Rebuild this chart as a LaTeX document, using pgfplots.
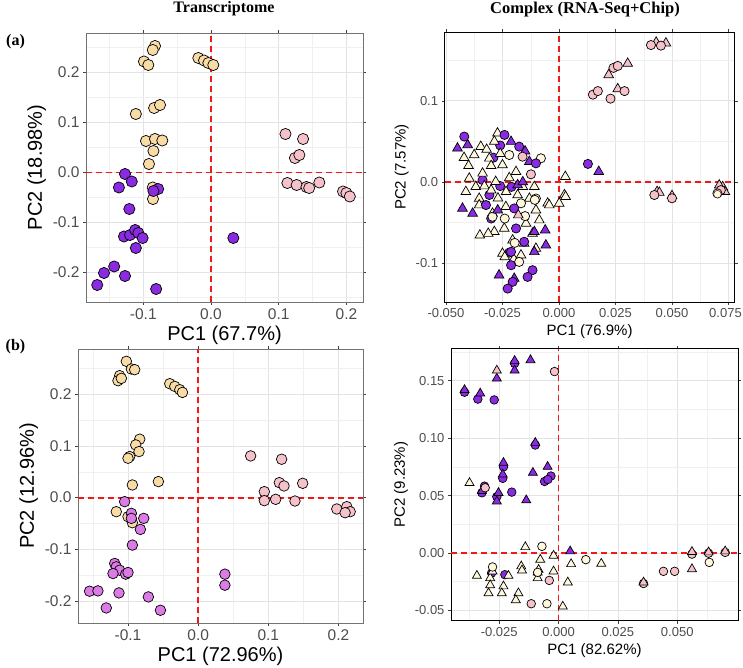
\documentclass[border=0pt]{standalone}
\usepackage{pgfplots}
\pgfplotsset{compat=1.18}
\usepackage{fontspec}
\setmainfont{Liberation Sans}
\newfontfamily\titlefont{Liberation Serif}
\newcommand{\fs}[1]{\fontsize{#1}{#1}\selectfont}
\definecolor{cwheat}{HTML}{F9DBA5}
\definecolor{cpink}{HTML}{F6C2CA}
\definecolor{cpurple}{HTML}{8A2BE2}
\definecolor{corchid}{HTML}{DA7BE6}
\definecolor{csilk}{HTML}{FFF8DC}
\definecolor{tickgray}{HTML}{4D4D4D}
\definecolor{zred}{HTML}{F01818}
\pgfplotsset{
  pca/.style={
    scale only axis, clip=true, scaled ticks=false,
    grid=both,
    major grid style={color=black!11, line width=0.7pt},
    minor grid style={color=black!6, line width=0.4pt},
    tick align=outside, major tick length=3pt, minor tick length=0pt,
    tick style={color=black!75, line width=0.6pt},
    ticklabel style={text=tickgray},
  },
  leftp/.style={pca, axis line style={draw=black!55, line width=0.8pt},
    ticklabel style={font=\fs{15.5}}, label style={font=\fs{20}}},
  rightp/.style={pca, axis line style={draw=black, line width=0.8pt},
    ticklabel style={font=\fs{13}}, label style={font=\fs{15}}},
  zline/.style={draw=zred, line width=1.7pt, dash pattern=on 6pt off 4pt, no marks, sharp plot},
  circ/.style 2 args={only marks, mark=*, mark size=#2, mark options={fill=#1, draw=black, line width=0.7pt}},
  tri/.style 2 args={only marks, mark=triangle*, mark size=#2, mark options={fill=#1, draw=black, line width=0.7pt}},
}
\begin{document}
\begin{tikzpicture}[x=1pt,y=1pt]
\path[use as bounding box] (0,0) rectangle (743,667);
\node[font=\titlefont\bfseries\fs{16}] at (224,658) {Transcriptome};
\node[font=\titlefont\bfseries\fs{16.5}] at (585,657) {Complex (RNA-Seq+Chip)};
\node[font=\titlefont\bfseries\fs{16}] at (15.5,625) {(a)};
\node[font=\titlefont\bfseries\fs{16}] at (15.5,320) {(b)};

% ---------- Panel 1 ----------
\begin{axis}[leftp, at={(86pt,365pt)}, anchor=south west, width=277pt, height=269pt,
  xmin=-0.1846, xmax=0.2245, ymin=-0.259, ymax=0.279,
  xtick={-0.1,0,0.1,0.2}, xticklabels={-0.1,0.0,0.1,0.2},
  ytick={-0.2,-0.1,0,0.1,0.2}, yticklabels={-0.2,-0.1,0.0,0.1,0.2},
  minor xtick={-0.15,-0.05,0.05,0.15}, minor ytick={-0.25,-0.15,-0.05,0.05,0.15,0.25},
  xlabel={PC1 (67.7\%)}, ylabel={PC2 (18.98\%)}]
\addplot[circ={cwheat}{5.6pt}] coordinates {
(-0.0827,0.253) (-0.086,0.245) (-0.099,0.222) (-0.0926,0.215) (-0.0187,0.229) (-0.0103,0.224)
(-0.0039,0.219) (0.0034,0.215) (-0.111,0.117) (-0.084,0.129) (-0.0753,0.135) (-0.096,0.063)
(-0.0827,0.067) (-0.0719,0.064) (-0.085,0.043) (-0.0916,0.017) (-0.086,-0.030) (-0.0857,-0.053)};
\addplot[circ={cpurple}{5.6pt}] coordinates {
(-0.127,-0.003) (-0.117,-0.018) (-0.136,-0.030) (-0.078,-0.033) (-0.085,-0.037) (-0.1206,-0.073)
(-0.1285,-0.128) (-0.1196,-0.125) (-0.112,-0.115) (-0.1073,-0.121) (-0.101,-0.131) (-0.111,-0.151)
(0.033,-0.131) (-0.143,-0.188) (-0.158,-0.201) (-0.168,-0.225) (-0.127,-0.207) (-0.081,-0.233)};
\addplot[circ={cpink}{5.6pt}] coordinates {
(0.110,0.077) (0.136,0.067) (0.124,0.029) (0.1305,0.035) (0.1128,-0.021) (0.1265,-0.025)
(0.141,-0.029) (0.145,-0.031) (0.160,-0.020) (0.195,-0.038) (0.200,-0.041) (0.205,-0.048)};
\addplot[zline] coordinates {(0,-0.259) (0,0.279)};
\addplot[zline] coordinates {(-0.1846,0) (0.2245,0)};
\end{axis}

% ---------- Panel 2 ----------
\begin{axis}[rightp, at={(444.6pt,365pt)}, anchor=south west, width=290pt, height=270pt,
  xmin=-0.0506, xmax=0.0777, ymin=-0.1478, ymax=0.1848,
  xtick={-0.05,-0.025,0,0.025,0.05,0.075}, xticklabels={-0.050,-0.025,0.000,0.025,0.050,\hspace*{-6pt}0.075},
  ytick={-0.1,0,0.1}, yticklabels={-0.1,0.0,0.1},
  minor xtick={-0.0375,-0.0125,0.0125,0.0375,0.0625}, minor ytick={-0.05,0.05,0.15},
  xlabel={PC1 (76.9\%)}, ylabel={PC2 (7.57\%)}]
\addplot[circ={cpurple}{4.6pt}] coordinates {
(-0.0338,0.0024) (-0.0308,-0.0160) (-0.0290,0.0300) (-0.0260,0.0450) (-0.0300,-0.0450)
(-0.0260,-0.0050) (-0.0210,-0.0060) (-0.0220,-0.0870)};
\addplot[tri={csilk}{5.6pt}] coordinates {
(0.0028,0.0066) (0.0024,-0.0160) (0.0029,-0.0180) (-0.0050,-0.0262) (-0.0346,0.0436) (-0.0375,0.0333)
(-0.0272,0.0601) (-0.0286,0.0500) (-0.0308,0.0292) (-0.0250,0.0210) (-0.0338,0.0107) (-0.0397,0.0045)
(-0.0412,-0.0120) (-0.0368,-0.0058) (-0.0280,0.0004) (-0.0234,-0.0120) (-0.0353,-0.0203) (-0.0190,0.0126)
(-0.0160,-0.0058) (-0.0109,-0.0058) (-0.0131,-0.0203) (-0.0183,-0.0160) (-0.0353,-0.0284) (-0.0294,-0.0387)
(-0.0235,-0.0305) (-0.0102,-0.0346) (-0.0043,-0.0284) (0.0001,-0.0263) (-0.0087,-0.0469) (-0.0286,-0.0613)
(-0.0242,-0.0572) (-0.0146,-0.0510) (-0.0117,-0.0634) (-0.0154,-0.0757) (-0.0205,-0.0716) (-0.0250,-0.0881)
(-0.0102,-0.0819) (-0.0168,-0.0901) (-0.0320,0.0400) (-0.0300,0.0200) (-0.0260,0.0350) (-0.0330,-0.0050)
(-0.0220,0.0050) (-0.0270,-0.0200) (-0.0300,-0.0100) (-0.0420,0.0300) (-0.0400,0.0200)
(-0.0350,-0.0656) (-0.0313,-0.0635) (-0.0240,-0.0924) (-0.0200,-0.0950)};
\addplot[circ={csilk}{4.6pt}] coordinates {
(-0.0080,0.0292) (-0.0220,0.0333) (-0.0102,-0.0203) (-0.0168,-0.0262) (-0.0294,-0.0428) (-0.0176,-0.0984)
(-0.0107,-0.0220) (-0.0196,-0.0750) (-0.0240,-0.0450) (-0.0150,-0.0420)};
\addplot[tri={cpurple}{5.6pt}] coordinates {
(0.0176,0.0128) (-0.0449,0.0416) (-0.0404,0.0457) (-0.0212,0.0498) (-0.0131,0.0251) (-0.0183,-0.0036)
(-0.0427,-0.0325) (-0.0382,-0.0387) (-0.0271,-0.0346) (-0.0109,-0.0613) (-0.0061,-0.0593) (-0.0058,-0.0778)
(-0.0109,-0.0860) (-0.0265,-0.1148) (-0.0198,-0.1189) (-0.0160,0.0000) (-0.0150,0.0380)};
\addplot[circ={cpurple}{4.6pt}] coordinates {
(0.0128,0.0223) (-0.0419,0.0560) (-0.0241,0.0580) (-0.0176,0.0436) (-0.0102,0.0230) (-0.0190,-0.0572)
(-0.0154,-0.0736) (-0.0212,-0.0860) (-0.0212,-0.1025) (-0.0117,-0.1086) (-0.0139,-0.1169) (-0.0205,-0.1230)
(-0.0227,-0.1313) (-0.0323,-0.0284) (-0.0198,-0.0325)};
\addplot[tri={cpink}{5.6pt}] coordinates {
(0.0430,0.1720) (0.0473,0.1710) (0.0304,0.1460) (0.0220,0.1320) (0.0260,0.1146) (0.0434,-0.0120)
(0.0444,-0.0130) (0.0500,-0.0170) (0.0724,-0.0060) (0.0734,-0.0120) (0.0709,-0.0040) (-0.0180,-0.0407)};
\addplot[circ={cpink}{4.6pt}] coordinates {
(0.0407,0.1687) (0.0451,0.1680) (0.0241,0.1406) (0.0260,0.1430) (0.0150,0.1076) (0.0172,0.1120)
(0.0228,0.1027) (0.0290,0.1120) (0.0422,-0.0160) (0.0500,-0.0200) (0.0716,-0.0100) (0.0701,-0.0140)
(-0.0161,0.0312) (-0.0124,0.0095)};
\addplot[only marks, mark=*, mark size=3.8pt, mark options={fill=csilk, draw=none}] coordinates {(0.0701,-0.0150)};
\addplot[zline] coordinates {(0,-0.1478) (0,0.1848)};
\addplot[zline] coordinates {(-0.0506,0) (0.0777,0)};
\end{axis}

% ---------- Panel 3 ----------
\begin{axis}[leftp, at={(78pt,44pt)}, anchor=south west, width=285pt, height=274pt,
  xmin=-0.1713, xmax=0.235, ymin=-0.242, ymax=0.287,
  xtick={-0.1,0,0.1,0.2}, xticklabels={-0.1,0.0,0.1,0.2},
  ytick={-0.2,-0.1,0,0.1,0.2}, yticklabels={-0.2,-0.1,0.0,0.1,0.2},
  minor xtick={-0.15,-0.05,0.05,0.15}, minor ytick={-0.15,-0.05,0.05,0.15,0.25},
  xlabel={PC1 (72.96\%)}, ylabel={PC2 (12.96\%)}]
\addplot[circ={cwheat}{5.3pt}] coordinates {
(-0.1024,0.2632) (-0.0952,0.2484) (-0.0905,0.2471) (-0.1119,0.2355) (-0.1143,0.2258) (-0.1095,0.2303)
(-0.0405,0.2200) (-0.0333,0.2148) (-0.0262,0.2084) (-0.0224,0.2032) (-0.0833,0.1129) (-0.0890,0.1019)
(-0.0843,0.0890) (-0.0976,0.0794) (-0.1000,0.0761) (-0.0938,0.0245) (-0.0567,0.0310) (-0.1167,-0.0271)
(-0.1000,-0.0368) (-0.0938,-0.0484)};
\addplot[circ={corchid}{5.3pt}] coordinates {
(-0.1048,-0.0077) (-0.0952,-0.0303) (-0.0952,-0.0400) (-0.0776,-0.0400) (-0.0824,-0.0613) (-0.0938,-0.0916)
(-0.1190,-0.1270) (-0.1167,-0.1335) (-0.1119,-0.1400) (-0.1214,-0.1465) (-0.1033,-0.1477) (-0.1000,-0.1445)
(-0.1548,-0.1806) (-0.1429,-0.1800) (-0.1129,-0.1839) (-0.1310,-0.2129) (-0.0710,-0.1916) (-0.0538,-0.2174)
(0.0381,-0.1477) (0.0381,-0.1690)};
\addplot[circ={cpink}{5.3pt}] coordinates {
(0.0748,0.0806) (0.1190,0.0742) (0.1157,0.0290) (0.1224,0.0226) (0.1490,0.0277) (0.0943,0.0116)
(0.0943,-0.0058) (0.1105,-0.0032) (0.1380,-0.0065) (0.1976,-0.0219) (0.2119,-0.0174) (0.2167,-0.0271)
(0.2095,-0.0290)};
\addplot[zline] coordinates {(0,-0.242) (0,0.287)};
\addplot[zline] coordinates {(-0.1713,0) (0.235,0)};
\end{axis}

% ---------- Panel 4 ----------
\begin{axis}[rightp, at={(451pt,46.4pt)}, anchor=south west, width=287pt, height=272pt,
  xmin=-0.0453, xmax=0.0756, ymin=-0.0589, ymax=0.178,
  xtick={-0.025,0,0.025,0.05}, xticklabels={-0.025,0.000,0.025,0.050},
  ytick={-0.05,0,0.05,0.1,0.15}, yticklabels={-0.05,0.00,0.05,0.10,0.15},
  minor xtick={-0.0375,-0.0125,0.0125,0.0375,0.0625}, minor ytick={-0.025,0.025,0.075,0.125,0.175},
  xlabel={PC1 (82.62\%)}, ylabel={PC2 (9.23\%)}]
\addplot[circ={cpurple}{4.3pt}] coordinates {
(-0.0282,-0.0175) (-0.0226,-0.0189)};
\addplot[tri={csilk}{5.2pt}] coordinates {
(-0.0375,0.0610) (0.0180,-0.0093) (0.0053,-0.0096) (0.0039,-0.0256) (-0.0140,0.0052) (-0.0021,-0.0023)
(-0.0077,-0.0058) (-0.0157,-0.0116) (-0.0088,-0.0169) (-0.0088,-0.0218) (-0.0021,-0.0160) (0.0018,-0.0466)
(-0.0344,-0.0198) (-0.0211,-0.0198) (-0.0288,-0.0218) (-0.0295,-0.0350) (-0.0288,-0.0280) (-0.0232,-0.0290)
(-0.0239,-0.0350) (-0.0169,-0.0350) (-0.0180,-0.0410) (-0.0154,-0.0151) (-0.0084,-0.0146) (-0.0278,-0.0160)};
\addplot[circ={csilk}{4.3pt}] coordinates {
(0.0635,-0.0082) (0.0115,-0.0058) (-0.0070,0.0058) (-0.0049,-0.0442) (-0.0278,-0.0122) (-0.0088,-0.0169)};
\addplot[circ={cpurple}{4.3pt}] coordinates {
(-0.0396,0.1400) (-0.0340,0.1340) (-0.0271,0.1333) (-0.0185,0.1650) (-0.0098,0.0940) (-0.0232,0.0750)
(-0.0235,0.0650) (-0.0312,0.0582) (-0.0323,0.0524) (-0.0197,0.0530) (-0.0059,0.0623) (-0.0032,0.0670)
(-0.0045,0.0640) (-0.0260,0.0490)};
\addplot[tri={cpurple}{5.2pt}] coordinates {
(-0.0396,0.1420) (-0.0330,0.1390) (-0.0185,0.1674) (-0.0185,0.1590) (-0.0118,0.1680) (-0.0260,0.1520)
(-0.0098,0.0960) (-0.0232,0.0786) (-0.0235,0.0684) (-0.0253,0.0524) (-0.0260,0.0450) (-0.0136,0.0460)
(-0.0108,0.0699) (-0.0046,0.0751) (0.0049,0.0015) (-0.0323,0.0540)};
\addplot[circ={cpink}{4.3pt}] coordinates {
(-0.0017,0.1580) (-0.0309,0.0568) (0.0562,-0.0010) (0.0632,-0.0002) (0.0702,0.0005) (0.0442,-0.0160)
(0.0489,-0.0160) (0.0358,-0.0266) (-0.0039,-0.0239) (-0.0115,-0.0442)};
\addplot[tri={cpink}{5.2pt}] coordinates {
(-0.0260,0.1590) (0.0562,0.0010) (0.0632,0.0006) (0.0702,0.0015) (0.0562,-0.0140) (0.0358,-0.0256)};
\addplot[zline] coordinates {(0,-0.0589) (0,0.178)};
\addplot[zline] coordinates {(-0.0453,0) (0.0756,0)};
\end{axis}
\end{tikzpicture}
\end{document}
